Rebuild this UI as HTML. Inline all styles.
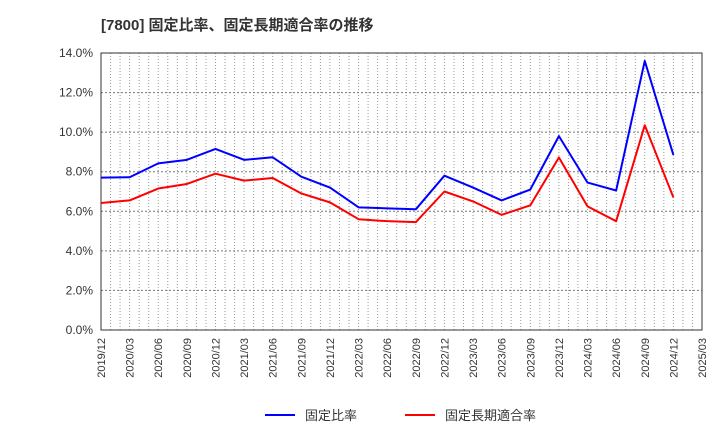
<!DOCTYPE html>
<html><head><meta charset="utf-8"><style>
body{margin:0;background:#fff;width:720px;height:440px;overflow:hidden;font-family:"Liberation Sans","Noto Sans CJK JP",sans-serif;}
</style></head><body>
<svg id="c" width="720" height="440" xmlns="http://www.w3.org/2000/svg">
<text x="101" y="30" font-size="15" font-weight="bold" fill="#333" font-family="Liberation Sans, Noto Sans CJK JP, sans-serif">[7800]  固定比率、固定長期適合率の推移</text>
</svg>
<script>
const categories=["2019/12","2020/03","2020/06","2020/09","2020/12","2021/03","2021/06","2021/09","2021/12","2022/03","2022/06","2022/09","2022/12","2023/03","2023/06","2023/09","2023/12","2024/03","2024/06","2024/09","2024/12","2025/03"];
const fixedRatio=[7.7,7.72,8.42,8.6,9.15,8.6,8.73,7.75,7.2,6.2,6.15,6.1,7.8,7.2,6.55,7.1,9.8,7.45,7.05,13.6,8.85];
const fixedLongTermRatio=[6.42,6.55,7.15,7.38,7.9,7.55,7.68,6.9,6.45,5.6,5.5,5.45,7.0,6.5,5.82,6.3,8.72,6.25,5.5,10.35,6.7];
const yTicks=[0,2,4,6,8,10,12,14];
const seriesNames=["固定比率","固定長期適合率"];
const svg=document.getElementById('c');const NS="http://www.w3.org/2000/svg";
const L=101,R=702,T=53,B=330;
const xs=i=>L+i*(R-L)/(categories.length-1);
const ys=v=>B-(v/14)*(B-T);
function mk(t,a){const e=document.createElementNS(NS,t);for(const k in a)e.setAttribute(k,a[k]);svg.appendChild(e);return e;}
// vertical monthly grid
for(let m=1;m<(categories.length-1)*3;m++){const x=L+m*(R-L)/((categories.length-1)*3);
const g=mk('line',{x1:x,x2:x,y1:T,y2:B,stroke:'#999','stroke-dasharray':'1,2','stroke-width':1});

}
yTicks.forEach(v=>{const y=ys(v);
if(v>0&&v<14){const g=mk('line',{x1:L,x2:R,y1:y,y2:y,stroke:'#777','stroke-dasharray':'2,2','stroke-width':1});

}
const t=mk('text',{x:L-8,y:y+4,'text-anchor':'end','font-size':12,fill:'#333'});t.textContent=v.toFixed(1)+'%';

});
const fr=mk('rect',{x:L,y:T,width:R-L,height:B-T,fill:'none',stroke:'#333','stroke-width':1});


categories.forEach((c,i)=>{const x=xs(i);const t=mk('text',{transform:`translate(${x+4},${B+8}) rotate(-90)`,'text-anchor':'end','font-size':11,fill:'#333'});t.textContent=c;

});
[[fixedRatio,'#0000ff','fixed-ratio-line'],[fixedLongTermRatio,'#ff0000','fixed-long-term-ratio-line']].forEach(([d,col,n])=>{
const p=mk('polyline',{points:d.map((v,i)=>xs(i)+','+ys(v)).join(' '),fill:'none',stroke:col,'stroke-width':2,'stroke-linejoin':'round'});

});
[[265,'#0000ff',0],[405,'#ff0000',1]].forEach(([x,col,i])=>{
const l=mk('line',{x1:x,x2:x+30,y1:415,y2:415,stroke:col,'stroke-width':2});


const t=mk('text',{x:x+40,y:420,'font-size':13,fill:'#333'});t.textContent=seriesNames[i];

});
</script>
</body></html>
